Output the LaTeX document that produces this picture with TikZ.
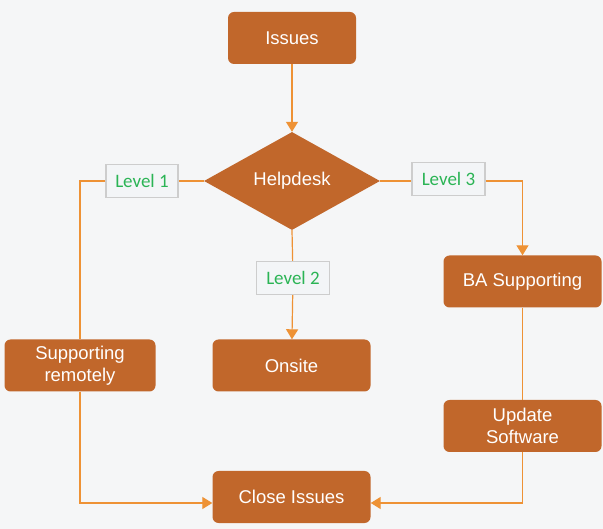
\documentclass[tikz,border=0pt]{standalone}
\usepackage{fontspec}
\setmainfont{Liberation Sans}
\newfontfamily\lblfont{Carlito}
\usetikzlibrary{shapes.geometric,arrows.meta}
\definecolor{boxfill}{HTML}{C1672B}
\definecolor{linec}{HTML}{EE9235}
\definecolor{lblfill}{HTML}{F3F5F7}
\definecolor{lbldraw}{HTML}{CDCDCD}
\definecolor{lbltext}{HTML}{2BB455}
\definecolor{bg}{HTML}{F5F6F7}
\begin{document}
\begin{tikzpicture}[x=1pt,y=-1pt,
  procbox/.style={rectangle,rounded corners=6pt,fill=boxfill,text=white,
    minimum width=158pt,minimum height=52pt,inner sep=2pt,align=center,
    font=\fontsize{18.5}{22}\selectfont},
  decbox/.style={diamond,fill=boxfill,text=white,minimum width=176pt,minimum height=98pt,
    inner sep=0pt,aspect=1.8,font=\fontsize{18.5}{22}\selectfont},
  lblbox/.style={rectangle,fill=lblfill,draw=lbldraw,line width=1.3pt,text=lbltext,
    minimum width=72pt,minimum height=33pt,inner sep=1pt,font=\lblfont\fontsize{19}{21}\selectfont},
  conn/.style={draw=linec,line width=1.2pt},
  arr/.style={conn,-{Triangle[width=12pt,length=10pt,fill=linec]}}
]
\fill[bg] (0,0) rectangle (603,529);
\useasboundingbox (0,0) rectangle (603,529);

\node[procbox,minimum width=128pt] (issues) at (292,38) {Issues};
\node[decbox] (help) at (292,181) {Helpdesk};
\node[lblbox] (l1) at (142,181) {Level 1};
\node[lblbox,minimum width=73pt] (l3) at (448.5,179) {Level 3};
\node[lblbox,minimum width=73pt] (l2) at (293,278) {Level 2};
\node[procbox] (ba) at (522.5,281.5) {BA Supporting};
\node[procbox,minimum width=151pt] (remote) at (80,365.5) {Supporting\\remotely};
\node[procbox] (onsite) at (291.5,365.5) {Onsite};
\node[procbox] (update) at (522.5,426) {Update\\Software};
\node[procbox] (close) at (291.5,497) {Close Issues};

\draw[arr] (issues) -- (help);
\draw[conn] (help.west) -- (l1);
\draw[conn] (l1.west) -- (l1.west -| remote.north) -- (remote.north);
\draw[arr] (remote.south) |- ([yshift=-6pt]close.west);
\draw[conn] (help.south) -- (l2);
\draw[arr] (l2) -- (onsite);
\draw[conn] (help.east) -- (l3.west |- help.east);
\draw[arr] (l3.east |- help.east) -| (ba.north);
\draw[conn] (ba) -- (update);
\draw[arr] (update.south) |- ([yshift=-6pt]close.east);
\end{tikzpicture}
\end{document}
